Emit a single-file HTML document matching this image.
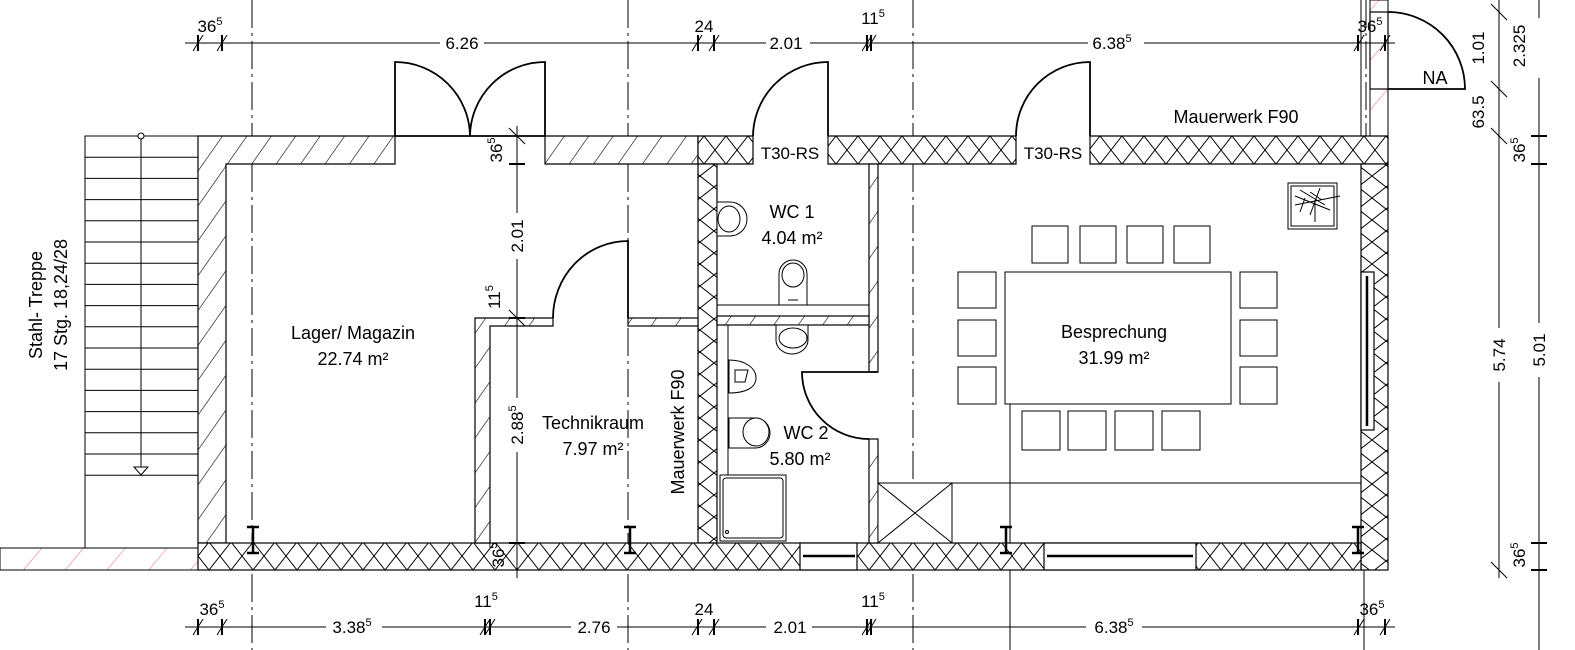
<!DOCTYPE html>
<html><head><meta charset="utf-8"><style>
html,body{margin:0;padding:0;background:#fff;}
svg{display:block;}
text{font-family:"Liberation Sans",sans-serif;fill:#000;}
.d{font-size:17px;}
.r{font-size:18px;}
</style></head><body>
<svg width="1575" height="650" viewBox="0 0 1575 650" xmlns="http://www.w3.org/2000/svg">
<defs>
<pattern id="hd" patternUnits="userSpaceOnUse" width="20" height="20" patternTransform="rotate(35)">
<rect width="20" height="20" fill="#fff"/><line x1="0" y1="0" x2="0" y2="20" stroke="#000" stroke-width="1.2"/></pattern>
<pattern id="hr" patternUnits="userSpaceOnUse" width="32" height="20" patternTransform="rotate(40)">
<rect width="32" height="20" fill="#fff"/><line x1="0" y1="0" x2="0" y2="20" stroke="#f08080" stroke-width="1.2"/></pattern>
<pattern id="cx" patternUnits="userSpaceOnUse" x="0" y="136" width="22" height="28">
<rect width="22" height="28" fill="#fff"/><path d="M0,0L22,28M22,0L0,28" stroke="#000" stroke-width="1"/></pattern>
<pattern id="cxv" patternUnits="userSpaceOnUse" x="0" y="0" width="28" height="22">
<rect width="28" height="22" fill="#fff"/><path d="M0,0L28,22M28,0L0,22" stroke="#000" stroke-width="1"/></pattern>
</defs>

<g stroke="#000" stroke-width="1" stroke-dasharray="28,5,3,5" fill="none">
<line x1="252" y1="0" x2="252" y2="650"/>
<line x1="628" y1="0" x2="628" y2="650"/>
<line x1="913" y1="0" x2="913" y2="650"/>
<line x1="1366" y1="0" x2="1366" y2="136"/>
</g>
<line x1="1010" y1="404" x2="1010" y2="650" stroke="#000"/>
<line x1="1364" y1="570" x2="1364" y2="650" stroke="#000"/>

<g stroke="#000" stroke-width="1" fill="none">
<rect x="85" y="136" width="113" height="412" fill="#fff"/>
<path d="M85,157.2H198M85,178.4H198M85,199.6H198M85,220.8H198M85,242H198M85,263.2H198M85,284.4H198M85,305.6H198M85,326.8H198M85,348H198M85,369.2H198M85,390.4H198M85,411.6H198M85,432.8H198M85,454H198M85,475.2H198"/>
<line x1="141" y1="136" x2="141" y2="467"/>
<circle cx="141" cy="136" r="3" fill="#fff"/>
<path d="M134,467H148L141,475Z" fill="#fff"/>
</g>
<rect x="0" y="548" width="198" height="22" fill="url(#hr)" stroke="#000"/>
<rect x="1370" y="0" width="18" height="136" fill="url(#hr)" stroke="#000"/>
<line x1="1361" y1="0" x2="1361" y2="136" stroke="#000"/>

<g stroke="#000" stroke-width="1.2">
<path d="M198,136H395V164H226V543H198Z" fill="url(#hd)"/>
<path d="M545,136H698V164H545Z" fill="url(#hd)"/>
<path d="M698,136H753V164H698Z" fill="url(#cx)"/>
<rect x="698" y="164" width="19" height="379" fill="url(#cxv)"/>
<path d="M828,136H1016V164H828Z" fill="url(#cx)"/>
<path d="M1090,136H1388V164H1090Z" fill="url(#cx)"/>
<rect x="1361" y="164" width="27" height="406" fill="url(#cxv)"/>
<rect x="198" y="543" width="1163" height="27" fill="url(#cx)"/>
<rect x="869" y="164" width="9" height="208" fill="url(#hd)"/>
<rect x="869" y="439" width="9" height="104" fill="url(#hd)"/>
<rect x="717" y="316" width="152" height="9" fill="url(#hd)"/>
<path d="M475,318H553V326H490V543H475Z" fill="url(#hd)"/>
<rect x="628" y="318" width="70" height="8" fill="url(#hd)"/>
<rect x="800" y="543" width="57" height="27" fill="#fff"/>
<rect x="1044" y="543" width="152" height="27" fill="#fff"/>
<rect x="1361" y="272" width="13" height="158" fill="#fff"/>
</g>
<g stroke="#000" stroke-width="2.5">
<line x1="803" y1="556" x2="855" y2="556"/>
<line x1="1047" y1="556" x2="1193" y2="556"/>
<line x1="1367" y1="276" x2="1367" y2="426"/>
<line x1="253" y1="527" x2="253" y2="553"/><line x1="247" y1="527" x2="259" y2="527"/><line x1="247" y1="553" x2="259" y2="553"/>
<line x1="630" y1="527" x2="630" y2="553"/><line x1="624" y1="527" x2="636" y2="527"/><line x1="624" y1="553" x2="636" y2="553"/>
<line x1="1006" y1="527" x2="1006" y2="553"/><line x1="1000" y1="527" x2="1012" y2="527"/><line x1="1000" y1="553" x2="1012" y2="553"/>
<line x1="1358" y1="527" x2="1358" y2="553"/><line x1="1352" y1="527" x2="1364" y2="527"/><line x1="1352" y1="553" x2="1364" y2="553"/>
</g>

<g stroke="#000" stroke-width="1.8" fill="none">
<line x1="395" y1="136" x2="545" y2="136"/>
<path d="M395,136V62A75,75 0 0 1 470,136"/>
<path d="M545,136V62A75,75 0 0 0 470,136"/>
<path d="M828,136V62A75,75 0 0 0 753,136"/>
<path d="M1090,136V62A74,74 0 0 0 1016,136"/>
<path d="M628,318V241A75,77 0 0 0 553,318"/>
<path d="M869,439A67,67 0 0 1 802,372H878"/>
<path d="M1388,12A77,77 0 0 1 1465,89H1388"/>
<rect x="1370" y="12" width="18" height="77" stroke-width="1.2"/>
</g>

<g stroke="#000" stroke-width="1" fill="#fff">
<line x1="717" y1="305" x2="869" y2="305"/>
<line x1="728" y1="325" x2="728" y2="475"/>
<path d="M717,202H730A16,16 0 0 1 730,236H717Z"/><ellipse cx="729" cy="219" rx="11" ry="13"/>
<path d="M779,305V274A14,14 0 0 1 807,274V305Z"/><ellipse cx="793" cy="275" rx="11" ry="12"/><line x1="788" y1="300" x2="798" y2="300"/>
<path d="M776,325V340A16,14 0 0 0 808,340V325Z"/><ellipse cx="793" cy="338" rx="14" ry="10"/>
<path d="M729,360C745,360 756,368 756,378C756,388 745,393 729,393Z"/><path d="M735,370H748L745,382H735Z"/>
<path d="M729,418H755A15,15 0 0 1 755,448H729Z"/><ellipse cx="756" cy="432" rx="13" ry="14"/>
<rect x="720" y="475" width="66" height="66"/><rect x="723" y="478" width="60" height="60" rx="3"/>
<circle cx="727" cy="532" r="1.5"/>
<rect x="878" y="483" width="74" height="60"/><path d="M878,483L952,543M952,483L878,543" fill="none"/>
<line x1="952" y1="483" x2="1361" y2="483"/>
</g>

<g stroke="#000" stroke-width="1" fill="#fff">
<rect x="1005" y="272" width="226" height="132"/>
<rect x="1032" y="226" width="36" height="37"/><rect x="1080" y="226" width="36" height="37"/><rect x="1127" y="226" width="36" height="37"/><rect x="1174" y="226" width="36" height="37"/>
<rect x="1022" y="411" width="38" height="39"/><rect x="1068" y="411" width="38" height="39"/><rect x="1115" y="411" width="38" height="39"/><rect x="1162" y="411" width="38" height="39"/>
<rect x="958" y="272" width="38" height="36"/><rect x="958" y="320" width="38" height="36"/><rect x="958" y="367" width="38" height="37"/>
<rect x="1240" y="272" width="37" height="36"/><rect x="1240" y="320" width="37" height="36"/><rect x="1240" y="367" width="37" height="37"/>
<rect x="1288" y="183" width="49" height="46"/><rect x="1291" y="186" width="43" height="40"/>
<path d="M1300,190L1325,205M1320,188L1310,215M1295,205L1340,196M1315,200V222M1305,198L1300,212M1295,196L1330,210M1310,192L1322,200" fill="none"/>
</g>

<g class="r" text-anchor="middle">
<text x="353" y="339">Lager/ Magazin</text><text x="353" y="365">22.74 m²</text>
<text x="593" y="429">Technikraum</text><text x="593" y="455">7.97 m²</text>
<text x="792" y="218">WC 1</text><text x="792" y="244">4.04 m²</text>
<text x="806" y="439">WC 2</text><text x="800" y="465">5.80 m²</text>
<text x="1114" y="338">Besprechung</text><text x="1114" y="364">31.99 m²</text>
<text x="1236" y="123">Mauerwerk F90</text>
<text x="1435" y="84">NA</text>
<text transform="translate(684,432) rotate(-90)">Mauerwerk F90</text>
<text transform="translate(42,305) rotate(-90)">Stahl- Treppe</text>
<text transform="translate(67,305) rotate(-90)">17 Stg. 18,24/28</text>
</g>
<g class="d" text-anchor="middle">
<text x="790" y="159">T30-RS</text><text x="1053" y="159">T30-RS</text>
</g>

<g stroke="#000" stroke-width="1" fill="none">
<line x1="185" y1="43" x2="1395" y2="43"/>
<line x1="185" y1="627" x2="1395" y2="627"/>
<line x1="1499" y1="0" x2="1499" y2="578"/>
<line x1="1539" y1="0" x2="1539" y2="650"/>
<line x1="517" y1="126" x2="517" y2="578"/>
<path d="M193,51L203,35M217,51L227,35M692,51L702,35M709,51L719,35M862,51L872,35M866,51L876,35M1354,51L1364,35M1380,51L1390,35"/>
<path d="M193,635L203,619M217,635L227,619M480,635L490,619M485,635L495,619M692,635L702,619M709,635L719,619M862,635L872,619M866,635L876,619M1354,635L1364,619M1380,635L1390,619"/>
<path d="M1491,4L1507,20M1491,81L1507,97M1491,128L1507,144M1491,562L1507,578M509,128L525,144M509,310L525,326"/>
</g>
<g stroke="#000" stroke-width="2">
<path d="M198,35V51M222,35V51M698,35V51M714,35V51M867,35V51M871,35V51M1358,35V51M1385,35V51"/>
<path d="M198,619V635M222,619V635M485,619V635M490,619V635M698,619V635M714,619V635M867,619V635M871,619V635M1358,619V635M1385,619V635"/>
<path d="M1531,136H1547M1531,164H1547M1531,543H1547M1531,570H1547M509,164H525M509,318H525M509,543H525"/>
</g>
<g fill="#fff" stroke="none">
<rect x="440" y="34" width="44" height="18"/><rect x="766" y="34" width="44" height="18"/><rect x="1088" y="34" width="56" height="18"/>
<rect x="326" y="618" width="56" height="18"/><rect x="571" y="618" width="46" height="18"/><rect x="766" y="618" width="46" height="18"/><rect x="1086" y="618" width="56" height="18"/>
<rect x="1490" y="328" width="18" height="54"/><rect x="1530" y="323" width="18" height="54"/><rect x="1530" y="18" width="18" height="60"/>
<rect x="508" y="213" width="18" height="46"/><rect x="508" y="398" width="18" height="54"/>
</g>
<g class="d" text-anchor="middle">
<text x="462" y="49">6.26</text><text x="786" y="49">2.01</text><text x="1112" y="49">6.38<tspan font-size="11" dy="-7">5</tspan></text>
<text x="210" y="32">36<tspan font-size="11" dy="-7">5</tspan></text>
<text x="704" y="32">24</text>
<text x="873" y="24">11<tspan font-size="11" dy="-7">5</tspan></text>
<text x="1370" y="32">36<tspan font-size="11" dy="-7">5</tspan></text>
<text x="352" y="633">3.38<tspan font-size="11" dy="-7">5</tspan></text>
<text x="594" y="633">2.76</text><text x="790" y="633">2.01</text>
<text x="1114" y="633">6.38<tspan font-size="11" dy="-7">5</tspan></text>
<text x="212" y="615">36<tspan font-size="11" dy="-7">5</tspan></text>
<text x="486" y="607">11<tspan font-size="11" dy="-7">5</tspan></text>
<text x="704" y="615">24</text>
<text x="873" y="607">11<tspan font-size="11" dy="-7">5</tspan></text>
<text x="1372" y="615">36<tspan font-size="11" dy="-7">5</tspan></text>
<text transform="translate(1484,48) rotate(-90)">1.01</text>
<text transform="translate(1484,112) rotate(-90)">63.5</text>
<text transform="translate(1525,46) rotate(-90)">2.325</text>
<text transform="translate(1525,150) rotate(-90)">36<tspan font-size="11" dy="-7">5</tspan></text>
<text transform="translate(1505,355) rotate(-90)">5.74</text>
<text transform="translate(1545,350) rotate(-90)">5.01</text>
<text transform="translate(1525,555) rotate(-90)">36<tspan font-size="11" dy="-7">5</tspan></text>
<text transform="translate(523,236) rotate(-90)">2.01</text>
<text transform="translate(523,425) rotate(-90)">2.88<tspan font-size="11" dy="-7">5</tspan></text>
<text transform="translate(502,150) rotate(-90)">36<tspan font-size="11" dy="-7">5</tspan></text>
<text transform="translate(500,297) rotate(-90)">11<tspan font-size="11" dy="-7">5</tspan></text>
<text transform="translate(504,555) rotate(-90)">36<tspan font-size="11" dy="-7">5</tspan></text>
</g>
</svg>
</body></html>
